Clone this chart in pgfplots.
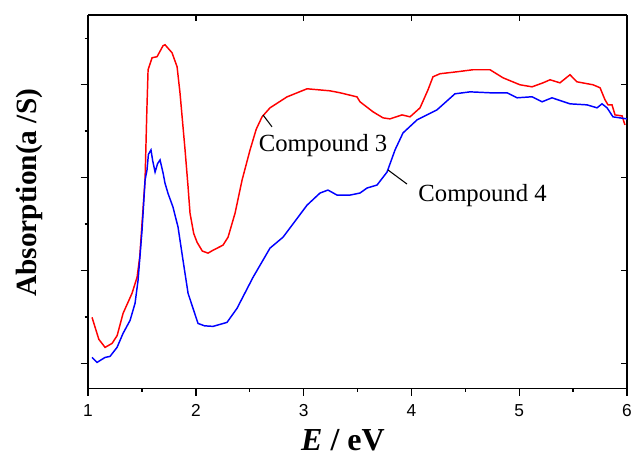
\documentclass[border=0pt]{standalone}
\usepackage{fontspec}
\setmainfont{Liberation Serif}
\newfontfamily\arial{Liberation Sans}
\usepackage{pgfplots}
\pgfplotsset{compat=1.18}
\usetikzlibrary{calc}

% absorption spectra
\pgfplotstableread{
x y
1.037 1.496
1.100 1.260
1.158 1.173
1.223 1.216
1.270 1.300
1.325 1.539
1.408 1.755
1.455 1.928
1.480 2.150
1.501 2.510
1.529 2.974
1.545 3.700
1.557 4.161
1.594 4.290
1.640 4.301
1.696 4.420
1.714 4.430
1.779 4.344
1.826 4.193
1.853 3.913
1.900 3.298
1.928 2.899
1.946 2.618
1.980 2.400
2.011 2.305
2.060 2.210
2.113 2.187
2.160 2.219
2.252 2.273
2.299 2.359
2.364 2.618
2.429 2.974
2.503 3.298
2.560 3.520
2.614 3.654
2.688 3.751
2.846 3.869
3.032 3.956
3.245 3.934
3.338 3.913
3.495 3.869
3.523 3.816
3.644 3.708
3.737 3.643
3.801 3.632
3.913 3.675
3.987 3.654
4.080 3.751
4.154 3.945
4.200 4.085
4.265 4.118
4.423 4.139
4.571 4.161
4.729 4.161
4.850 4.074
5.007 3.999
5.119 3.977
5.221 4.020
5.286 4.053
5.378 4.020
5.471 4.107
5.536 4.031
5.685 3.999
5.750 3.967
5.796 3.837
5.824 3.783
5.861 3.783
5.889 3.675
5.954 3.664
5.981 3.567
}\compthree

\pgfplotstableread{
x y
1.037 1.065
1.083 1.011
1.158 1.065
1.204 1.076
1.269 1.173
1.325 1.324
1.390 1.464
1.436 1.647
1.464 1.895
1.501 2.435
1.529 2.974
1.547 3.082
1.560 3.250
1.584 3.298
1.600 3.180
1.622 3.060
1.645 3.150
1.668 3.190
1.696 3.050
1.714 2.940
1.742 2.830
1.788 2.683
1.835 2.467
1.881 2.111
1.928 1.755
1.974 1.593
2.020 1.431
2.080 1.405
2.160 1.399
2.289 1.442
2.382 1.593
2.531 1.928
2.688 2.241
2.809 2.359
3.032 2.704
3.152 2.834
3.226 2.866
3.310 2.812
3.430 2.812
3.523 2.834
3.588 2.888
3.681 2.920
3.774 3.060
3.848 3.298
3.922 3.481
4.052 3.621
4.237 3.729
4.404 3.902
4.544 3.923
4.729 3.913
4.887 3.913
4.980 3.859
5.119 3.870
5.212 3.816
5.304 3.859
5.471 3.794
5.629 3.783
5.722 3.751
5.768 3.794
5.815 3.751
5.870 3.654
6.000 3.632
}\compfour

\begin{document}
\begin{tikzpicture}
\pgfplotsset{
    frame/.style={
        width=404pt, height=280pt,
        scale only axis,
        xmin=1, xmax=6,
        ymin=0.73, ymax=4.75,
        axis line style={line width=1.2pt},
        major tick style={line width=1pt, black},
        minor tick style={line width=1pt, black},
    }
}
% top and right: inward ticks only
\begin{axis}[
    frame,
    axis x line*=top, axis y line*=right,
    tick align=inside,
    xtick={1,2,...,6}, ytick={1,2,3,4},
    xticklabels={}, yticklabels={},
    major tick length=4.5pt,
]
\end{axis}
\begin{axis}[
    frame,
    axis x line*=bottom, axis y line*=left,
    tick align=outside,
    xtick={1,2,...,6},
    minor xtick={1.5,2.5,3.5,4.5,5.5},
    ytick={1,2,3,4},
    minor ytick={1.5,2.5,3.5,4.5},
    yticklabels={},
    major tick length=5.5pt,
    minor tick length=2.5pt,
    /pgf/number format/assume math mode=true,
    x tick label style={font=\arial\fontsize{13}{15}\selectfont, yshift=-3pt},
    xlabel={\textbf{\textit{E} / eV}},
    xlabel style={font=\fontsize{24}{28}\selectfont,
        at={(axis description cs:0.473,-0.139)}, anchor=center},
    ylabel={\textbf{Absorption(a /S)}},
    ylabel style={font=\fontsize{22}{26}\selectfont,
        at={(axis description cs:-0.1095,0.524)}, anchor=center},
    clip=false,
]
\addplot[red, line width=1.1pt] table {\compthree};
\addplot[blue, line width=1.1pt] table {\compfour};

\draw[line width=0.8pt] (axis cs:2.623,3.675) -- (axis cs:2.707,3.546);
\node[font=\fontsize{18.5}{22}\selectfont] at (axis cs:3.18,3.35) {Compound 3};
\draw[line width=0.8pt] (axis cs:3.783,3.082) -- (axis cs:3.959,2.931);
\node[font=\fontsize{18.5}{22}\selectfont] at (axis cs:4.66,2.81) {Compound 4};

\coordinate (bl) at (axis description cs:0,0);
\coordinate (tr) at (axis description cs:1,1);
\end{axis}
\pgfresetboundingbox
\path ($(bl)+(-66pt,-57pt)$) rectangle ($(tr)+(3.75pt,11.25pt)$);
\end{tikzpicture}
\end{document}
